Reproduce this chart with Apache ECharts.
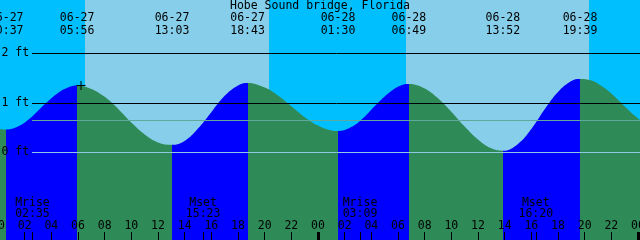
<!DOCTYPE html>
<html><head><meta charset="utf-8">
<script src="https://cdn.jsdelivr.net/npm/echarts@6/dist/echarts.min.js"></script>
<style>html,body{margin:0;padding:0;background:#fff}#c{width:640px;height:240px}</style>
</head><body><div id="c"></div><script>
// ---- data (hours since 06-27 00:00, heights in feet) ----
const chartTitle = 'Hobe Sound bridge, Florida';
const tideHours = [0, 0.617, 1.5, 2.5, 3.5, 4.5, 5.25, 5.933, 7, 8, 9, 10, 11, 12, 13.05, 14, 15, 16, 17, 18, 18.717, 20, 21, 22, 23, 24, 25, 25.5, 26.5, 27.5, 28.5, 29.5, 30.3, 30.817, 32, 33, 34, 35, 36, 37, 37.867, 39, 40, 41, 42, 43, 43.65, 44.5, 45.15, 46, 46.65, 47.5, 48.3];
const tideFeet  = [0.47, 0.46, 0.52, 0.71, 0.97, 1.20, 1.31, 1.35, 1.28, 1.12, 0.88, 0.60, 0.36, 0.20, 0.15, 0.23, 0.48, 0.81, 1.14, 1.35, 1.40, 1.31, 1.15, 0.93, 0.71, 0.54, 0.44, 0.43, 0.51, 0.72, 1.00, 1.24, 1.36, 1.38, 1.29, 1.09, 0.82, 0.52, 0.26, 0.08, 0.03, 0.17, 0.47, 0.87, 1.22, 1.44, 1.48, 1.45, 1.36, 1.19, 1.02, 0.80, 0.62];
const eventHours = [0.617, 5.933, 13.05, 18.717, 25.5, 30.817, 37.867, 43.65];
const eventKinds = ['low', 'high', 'low', 'high', 'low', 'high', 'low', 'high'];
const eventDates = ['06-27', '06-27', '06-27', '06-27', '06-28', '06-28', '06-28', '06-28'];
const eventClock = ['00:37', '05:56', '13:03', '18:43', '01:30', '06:49', '13:52', '19:39'];
const sunriseHours = [6.525, 30.6];
const sunsetHours = [20.325, 44.325];
const moonHours = [2.583, 15.383, 27.15, 40.333];
const moonNames = ['Mrise', 'Mset', 'Mrise', 'Mset'];
const moonClock = ['02:35', '15:23', '03:09', '16:20'];
const hourTickValues = [0, 2, 4, 6, 8, 10, 12, 14, 16, 18, 20, 22, 24, 26, 28, 30, 32, 34, 36, 38, 40, 42, 44, 46, 48];
const hourTickLabels = ['00', '02', '04', '06', '08', '10', '12', '14', '16', '18', '20', '22', '00', '02', '04', '06', '08', '10', '12', '14', '16', '18', '20', '22', '00'];
const midnightHours = [0, 24, 48];
const datumFeet = [0, 1, 2];
const datumLabels = ['0 ft', '1 ft', '2 ft'];
const blackLineFeet = [1, 2];
const mslFeet = 0.646;
const nowMark = [6.225, 1.35];

// ---- layout / style ----
const X_MIN = 0, X_MAX = 48.3, Y_MIN = -1.772, Y_MAX = 3.077;
const LINE_START = 2.55;
const FONT = 'DejaVu Sans Mono';
const FS = 11.5;
const C = { daySky: '#87CEEB', nightSky: '#00BFFF', rise: '#0000FF', fall: '#2E8B57', datum: '#8fc8e4', msl: '#5fa89c' };

const byValue = (vals, arr) => v => { let i = vals.findIndex(x => Math.abs(x - v) < 1e-6); return i < 0 ? '' : arr[i]; };

// sky bands
const bands = [];
let prev = X_MIN;
for (let d = 0; d < sunriseHours.length; d++) {
  bands.push([{ xAxis: prev, itemStyle: { color: C.nightSky, opacity: 1 } }, { xAxis: sunriseHours[d] }]);
  bands.push([{ xAxis: sunriseHours[d], itemStyle: { color: C.daySky, opacity: 1 } }, { xAxis: sunsetHours[d] }]);
  prev = sunsetHours[d];
}
bands.push([{ xAxis: prev, itemStyle: { color: C.nightSky, opacity: 1 } }, { xAxis: X_MAX }]);

// water colour pieces: rising (after low) blue, falling (after high) green
const pieces = [{ lt: eventHours[0], color: eventKinds[0] === 'low' ? C.fall : C.rise }];
eventHours.forEach((h, i) => {
  const p = { gte: h, color: eventKinds[i] === 'low' ? C.rise : C.fall };
  if (i + 1 < eventHours.length) p.lt = eventHours[i + 1];
  pieces.push(p);
});

const baseX = { type: 'value', min: X_MIN, max: X_MAX, z: 20, splitLine: { show: false }, axisLine: { show: false, onZero: false } };
const txt = { fontFamily: FONT, fontSize: FS, color: '#000' };

const option = {
  animation: false,
  title: { text: chartTitle, left: 'center', top: 0, padding: 0, z: 20, textStyle: Object.assign({ fontWeight: 'normal', lineHeight: 12 }, txt) },
  grid: { left: -2, right: -2, top: 0, bottom: 0, containLabel: false, outerBoundsMode: 'none' },
  xAxis: [
    Object.assign({}, baseX, { position: 'bottom',
      axisTick: { inside: true, length: 8, lineStyle: { color: '#000', width: 1 }, customValues: hourTickValues.concat(moonHours) },
      axisLabel: Object.assign({ inside: true, margin: 8, lineHeight: 12, customValues: hourTickValues, formatter: byValue(hourTickValues, hourTickLabels), showMinLabel: true, showMaxLabel: true, hideOverlap: false }, txt) }),
    Object.assign({}, baseX, { position: 'bottom',
      axisTick: { inside: true, length: 8, lineStyle: { color: '#000', width: 3 }, customValues: midnightHours },
      axisLabel: { show: false } }),
    Object.assign({}, baseX, { position: 'bottom', axisTick: { show: false },
      axisLabel: Object.assign({ inside: true, margin: 20, lineHeight: 11.5, customValues: moonHours, hideOverlap: false,
        formatter: v => byValue(moonHours, moonNames)(v) + '\n' + byValue(moonHours, moonClock)(v) }, txt) }),
    Object.assign({}, baseX, { position: 'top', axisTick: { show: false },
      axisLabel: Object.assign({ inside: true, margin: 12, lineHeight: 12.5, customValues: eventHours, hideOverlap: false, showMinLabel: true,
        formatter: v => byValue(eventHours, eventDates)(v) + '\n' + byValue(eventHours, eventClock)(v) }, txt) })
  ],
  yAxis: { type: 'value', min: Y_MIN, max: Y_MAX, position: 'left', z: 20, splitLine: { show: false }, axisLine: { show: false }, axisTick: { show: false },
    axisLabel: Object.assign({ inside: true, margin: 3.5, customValues: datumFeet, formatter: byValue(datumFeet, datumLabels) }, txt) },
  visualMap: { type: 'piecewise', show: false, dimension: 0, seriesIndex: 2, pieces: pieces },
  series: [
    { type: 'line', data: [], z: 1, silent: true, markArea: { silent: true, data: bands } },
    { type: 'line', data: [], z: 2, silent: true,
      markLine: { silent: true, symbol: 'none', label: { show: false }, lineStyle: { color: '#000', width: 1, type: 'solid' },
        data: blackLineFeet.map(f => [{ coord: [LINE_START, f] }, { coord: [X_MAX, f] }]) } },
    { type: 'line', z: 3, silent: true, showSymbol: false, smooth: 0.4,
      data: tideHours.map((h, i) => [h, tideFeet[i]]),
      lineStyle: { width: 0 }, areaStyle: { origin: 'start', opacity: 1 } },
    { type: 'line', data: [], z: 4, silent: true,
      markLine: { silent: true, symbol: 'none', label: { show: false },
        data: [
          [{ coord: [LINE_START, datumFeet[0]], lineStyle: { color: C.datum, width: 1, type: 'solid' } }, { coord: [X_MAX, datumFeet[0]] }],
          [{ coord: [LINE_START, mslFeet], lineStyle: { color: C.msl, width: 1, type: 'solid' } }, { coord: [X_MAX, mslFeet] }]
        ] } },
    { type: 'scatter', z: 5, silent: true, data: [nowMark], symbol: 'path://M0,4h9v1h-9z M4,0h1v9h-1z', symbolSize: 9, itemStyle: { color: '#000', opacity: 1 } }
  ]
};
echarts.init(document.getElementById('c'), null, { renderer: 'canvas' }).setOption(option);
</script></body></html>
